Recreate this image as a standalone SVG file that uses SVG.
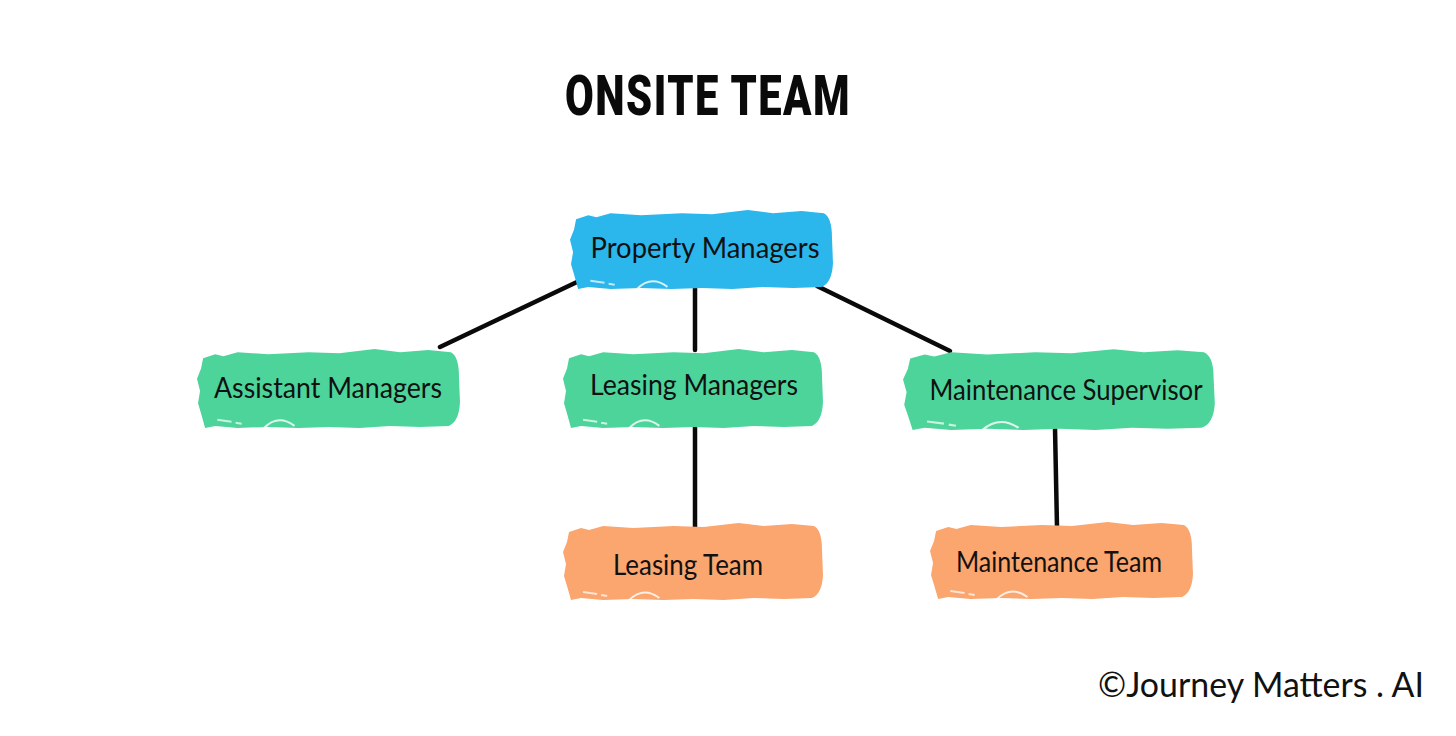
<svg xmlns="http://www.w3.org/2000/svg" xmlns:xlink="http://www.w3.org/1999/xlink" width="1456" height="736" viewBox="0 0 1456 736">
<style>
.title{font-family:"Roboto","Liberation Sans",sans-serif;font-weight:900;font-size:56px;fill:#0a0a0a;letter-spacing:2px}
.lbl{font-family:"Lato","Open Sans",sans-serif;font-size:29px;fill:#111}
.copy{font-family:"Lato","Open Sans",sans-serif;font-size:35px;fill:#111}
.conn line{stroke:#0a0a0a;stroke-width:4.5;stroke-linecap:round}
.blue{fill:#2bb6ec}.green{fill:#4dd49b}.orange{fill:#fba56f}
</style>
<defs>
<symbol id="brush" viewBox="0 0 260 82" preserveAspectRatio="none">
<path d="M6,12 L18,8 L26,10 L40,6 L70,8 L110,6 L140,7 L175,3 L200,6 L228,4 L250,6 Q258,10 258,30 L259,55 Q258,74 248,78 L220,79 L190,78 L160,80 L130,79 L100,80 L70,79 L40,80 L18,78 L8,80 L4,66 L1,56 L3,44 L0,32 L4,22 Z"/>
<path d="M66,80 Q80,66 96,78" fill="none" stroke="#fff" stroke-width="2" opacity="0.8"/>
<path d="M20,72 L34,74 M38,75 L44,76" fill="none" stroke="#fff" stroke-width="2" opacity="0.7"/>
</symbol>
</defs>
<rect width="1456" height="736" fill="#fff"/>
<text class="title" x="708" y="115" text-anchor="middle" textLength="286" lengthAdjust="spacingAndGlyphs">ONSITE TEAM</text>
<g id="connectors" class="conn">
<line x1="577" y1="282" x2="440" y2="347"/>
<line x1="695" y1="288" x2="695" y2="350"/>
<line x1="817" y1="286" x2="950" y2="351"/>
<line x1="695" y1="426" x2="695" y2="527"/>
<line x1="1055" y1="428" x2="1057" y2="527"/>
</g>
<g id="property-managers">
<use xlink:href="#brush" class="blue" x="570" y="207" width="264" height="84"/>
<text class="lbl" x="705" y="258" text-anchor="middle" textLength="229" lengthAdjust="spacingAndGlyphs">Property Managers</text>
</g>
<g id="assistant-managers">
<use xlink:href="#brush" class="green" x="197" y="346" width="264" height="84"/>
<text class="lbl" x="328" y="398" text-anchor="middle" textLength="228" lengthAdjust="spacingAndGlyphs">Assistant Managers</text>
</g>
<g id="leasing-managers">
<use xlink:href="#brush" class="green" x="563" y="346" width="261" height="84"/>
<text class="lbl" x="694" y="395" text-anchor="middle" textLength="208" lengthAdjust="spacingAndGlyphs">Leasing Managers</text>
</g>
<g id="maintenance-supervisor">
<use xlink:href="#brush" class="green" x="903" y="346" width="313" height="86"/>
<text class="lbl" x="1066" y="400" text-anchor="middle" textLength="273" lengthAdjust="spacingAndGlyphs">Maintenance Supervisor</text>
</g>
<g id="leasing-team">
<use xlink:href="#brush" class="orange" x="563" y="520" width="261" height="82"/>
<text class="lbl" x="688" y="575" text-anchor="middle" textLength="150" lengthAdjust="spacingAndGlyphs">Leasing Team</text>
</g>
<g id="maintenance-team">
<use xlink:href="#brush" class="orange" x="930" y="519" width="264" height="82"/>
<text class="lbl" x="1059" y="572" text-anchor="middle" textLength="206" lengthAdjust="spacingAndGlyphs">Maintenance Team</text>
</g>
<text class="copy" x="1424" y="697" text-anchor="end" textLength="326" lengthAdjust="spacingAndGlyphs">©Journey Matters . AI</text>
</svg>
